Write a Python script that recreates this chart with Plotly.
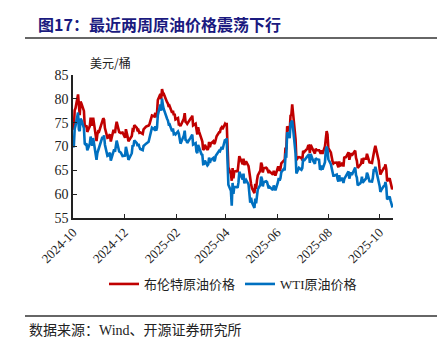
import plotly.graph_objects as go

# ---- data (daily closes, USD/bbl) ----
dates_oct24 = ["2024-10-%02d" % d for d in [1,2,3,4,7,8,9,10,11,14,15,16,17,18,21,22,23,24,25,28,29,30,31]]
brent_oct24 = [73.56,73.90,77.62,78.05,80.93,77.18,76.58,79.40,79.04,77.46,74.25,74.22,74.45,73.06,74.29,76.04,74.96,74.38,76.05,71.42,71.12,72.55,73.16]
wti_oct24 = [69.83,70.10,73.71,74.38,77.14,73.57,73.24,75.85,75.56,73.83,70.58,70.39,70.67,69.22,70.56,72.09,70.77,70.19,71.78,67.38,67.21,68.61,69.26]

dates_nov24 = ["2024-11-%02d" % d for d in [1,4,5,6,7,8,11,12,13,14,15,18,19,20,21,22,25,26,27,29]]
brent_nov24 = [73.10,75.08,75.53,75.92,75.63,73.87,71.83,71.89,72.28,72.56,71.04,73.30,73.31,72.81,74.23,75.17,73.01,72.81,72.83,72.94]
wti_nov24 = [69.49,71.47,71.99,71.69,72.36,70.38,68.04,68.12,68.43,68.70,67.02,69.16,69.39,68.87,70.10,71.24,68.94,68.77,68.72,68.00]

dates_dec24 = ["2024-12-%02d" % d for d in [2,3,4,5,6,9,10,11,12,13,16,17,18,19,20,23,24,27,30,31]]
brent_dec24 = [71.83,73.62,72.31,72.09,71.12,72.14,72.19,73.52,73.41,74.49,73.91,73.19,73.39,72.88,72.94,72.63,73.58,74.17,74.39,74.64]
wti_dec24 = [68.10,69.94,68.54,68.30,67.20,68.37,68.59,70.29,70.02,71.29,70.71,70.08,70.58,69.91,69.46,69.24,70.10,70.60,70.99,71.72]

dates_jan25 = ["2025-01-%02d" % d for d in [2,3,6,7,8,9,10,13,14,15,16,17,21,22,23,24,27,28,29,30,31]]
brent_jan25 = [75.93,76.51,76.30,77.05,76.16,76.92,79.76,81.01,79.92,82.03,81.29,81.07,79.29,79.00,78.29,78.50,77.08,77.49,76.58,76.87,75.67]
wti_jan25 = [73.13,73.96,73.56,74.25,73.32,73.92,76.57,78.82,77.50,80.04,78.68,77.88,75.83,75.44,74.62,74.66,73.17,73.77,72.62,72.73,72.53]

dates_feb25 = ["2025-02-%02d" % d for d in [3,4,5,6,7,10,11,12,13,14,18,19,20,21,24,25,26,27,28]]
brent_feb25 = [75.96,74.61,74.61,74.29,74.66,75.87,77.00,75.18,75.02,74.74,75.84,76.04,76.48,74.43,74.78,73.02,72.53,74.04,73.18]
wti_feb25 = [73.16,72.70,71.03,70.61,71.00,72.32,73.32,71.37,71.29,70.74,71.85,72.25,72.48,70.40,70.70,68.93,68.62,70.35,69.76]

dates_mar25 = ["2025-03-%02d" % d for d in [3,4,5,6,7,10,11,12,13,14,17,18,19,20,21,24,25,26,27,28,31]]
brent_mar25 = [71.62,71.04,69.30,69.46,70.36,69.28,69.56,70.95,69.88,70.58,71.07,70.56,70.78,72.00,72.16,73.00,73.02,73.79,74.03,73.63,74.74]
wti_mar25 = [68.37,68.26,66.31,66.36,67.04,66.03,66.25,67.68,66.55,67.18,67.58,66.90,67.16,68.07,68.28,69.11,69.00,69.65,69.92,69.36,71.48]

dates_apr25 = ["2025-04-%02d" % d for d in [1,2,3,4,7,8,9,10,11,14,15,16,17,21,22,23,24,25,28,29,30]]
brent_apr25 = [74.49,74.95,70.14,65.58,64.21,62.82,65.48,63.33,64.76,64.88,64.67,65.85,67.96,66.26,67.44,66.12,66.55,66.87,65.86,64.25,63.12]
wti_apr25 = [71.20,71.71,66.95,61.99,60.70,57.58,62.35,60.07,61.50,61.53,61.33,62.47,64.68,63.08,64.31,62.27,62.79,63.02,62.05,60.42,58.21]

dates_may25 = ["2025-05-%02d" % d for d in [1,2,5,6,7,8,9,12,13,14,15,16,19,20,21,22,23,27,28,29,30]]
brent_may25 = [62.13,61.29,60.23,62.15,61.12,62.84,63.91,64.96,66.63,66.09,64.53,65.41,65.54,65.38,64.91,64.44,64.78,64.09,64.90,64.15,63.90]
wti_may25 = [59.24,58.29,57.13,59.09,58.07,59.91,61.02,61.95,63.67,63.15,61.62,62.49,62.69,62.56,61.57,61.20,61.53,60.89,61.84,60.94,60.79]

dates_jun25 = ["2025-06-%02d" % d for d in [2,3,4,5,6,9,10,11,12,13,16,17,18,19,20,23,24,25,26,27,30]]
brent_jun25 = [65.63,65.63,64.86,65.34,66.47,67.04,66.87,69.77,69.36,74.23,73.23,76.45,76.70,78.85,77.01,71.48,67.14,67.68,67.73,67.77,67.61]
wti_jun25 = [62.52,63.41,62.85,63.37,64.58,65.29,64.98,68.15,68.04,72.98,71.77,74.84,75.14,75.40,73.84,68.51,64.37,64.92,65.24,65.52,65.11]

dates_jul25 = ["2025-07-%02d" % d for d in [1,2,3,7,8,9,10,11,14,15,16,17,18,21,22,23,24,25,28,29,30,31]]
brent_jul25 = [67.11,69.11,68.80,69.58,70.15,70.19,68.64,70.36,69.21,68.71,68.52,69.52,69.28,69.21,68.59,68.51,69.18,68.44,70.04,72.51,73.24,72.53]
wti_jul25 = [65.45,67.45,67.00,67.93,68.33,68.38,66.57,68.45,66.98,66.52,66.38,67.54,67.34,67.20,65.31,65.25,66.03,65.16,66.71,69.21,70.00,69.26]

dates_aug25 = ["2025-08-%02d" % d for d in [1,4,5,6,7,8,11,12,13,14,15,18,19,20,21,22,25,26,27,28,29]]
brent_aug25 = [69.67,68.76,67.64,66.89,66.43,66.59,66.63,66.12,65.63,66.84,65.85,66.60,65.79,67.84,67.67,67.73,68.80,67.22,68.05,68.62,68.12]
wti_aug25 = [67.33,66.29,65.16,64.35,63.88,63.88,64.10,63.17,62.65,63.96,62.80,63.42,62.35,63.21,63.52,63.66,64.80,63.25,64.15,64.60,64.01]

dates_sep25 = ["2025-09-%02d" % d for d in [2,3,4,5,8,9,10,11,12,15,16,17,18,19,22,23,24,25,26,29,30]]
brent_sep25 = [69.14,67.60,66.99,65.50,66.02,66.39,67.49,66.37,67.44,67.44,68.47,67.95,67.44,66.68,66.57,67.63,69.31,69.42,70.13,67.97,67.02]
wti_sep25 = [65.59,63.97,63.48,61.87,62.26,62.63,63.67,62.37,62.69,63.30,64.52,64.05,63.57,62.68,62.64,63.41,64.99,64.98,65.72,63.45,62.37]

dates_oct25 = ["2025-10-%02d" % d for d in [1,2,3,6,7,8,9,10,13,14,15,16,17]]
brent_oct25 = [65.35,64.11,64.53,65.47,65.45,66.25,65.22,62.73,63.32,62.39,62.01,61.06,61.29]
wti_oct25 = [61.78,60.48,60.88,61.69,61.73,62.55,61.51,58.90,59.49,58.70,58.27,57.46,57.54]

dates = (dates_oct24 + dates_nov24 + dates_dec24 + dates_jan25 + dates_feb25 + dates_mar25 +
         dates_apr25 + dates_may25 + dates_jun25 + dates_jul25 + dates_aug25 + dates_sep25 + dates_oct25)
brent = (brent_oct24 + brent_nov24 + brent_dec24 + brent_jan25 + brent_feb25 + brent_mar25 +
         brent_apr25 + brent_may25 + brent_jun25 + brent_jul25 + brent_aug25 + brent_sep25 + brent_oct25)
wti = (wti_oct24 + wti_nov24 + wti_dec24 + wti_jan25 + wti_feb25 + wti_mar25 +
       wti_apr25 + wti_may25 + wti_jun25 + wti_jul25 + wti_aug25 + wti_sep25 + wti_oct25)

series_names = ["布伦特原油价格", "WTI原油价格"]
title_text = "图17：最近两周原油价格震荡下行"
unit_text = "美元/桶"
source_text = "数据来源：Wind、开源证券研究所"

SERIF = "Liberation Serif, Times New Roman, Noto Sans CJK SC, serif"
CJK = "Noto Sans CJK SC, sans-serif"

fig = go.Figure()
fig.add_trace(go.Scatter(x=dates, y=brent, mode="lines", name=series_names[0],
                         line=dict(color="#C00000", width=2.6)))
fig.add_trace(go.Scatter(x=dates, y=wti, mode="lines", name=series_names[1],
                         line=dict(color="#0070C0", width=2.6)))

fig.update_layout(
    width=446, height=354,
    margin=dict(l=73, r=53, t=75, b=136),
    paper_bgcolor="white", plot_bgcolor="white",
    showlegend=True,
    legend=dict(orientation="h", x=0.5, xanchor="center", y=-(284-218)/143, yanchor="middle",
                font=dict(family=SERIF, size=13, color="#222"),
                bgcolor="rgba(0,0,0,0)", itemwidth=30, tracegroupgap=0),
    font=dict(family=SERIF, color="#222"),
)
fig.update_xaxes(
    type="date", range=["2024-10-01", "2025-10-17"],
    tick0="2024-10-01", dtick="M2", tickformat="%Y-%m",
    tickangle=-45, ticks="inside", ticklen=4, tickcolor="#222",
    showline=True, linecolor="#222", linewidth=1.5,
    showgrid=False, zeroline=False,
    tickfont=dict(family=SERIF, size=13, color="#222"),
)
fig.update_yaxes(
    range=[55, 85], dtick=5, tick0=55,
    ticks="inside", ticklen=4, tickcolor="#222",
    showline=True, linecolor="#222", linewidth=1.5,
    showgrid=False, zeroline=False,
    tickfont=dict(family=SERIF, size=14, color="#222"),
)

fig.add_annotation(text=title_text, xref="paper", yref="paper",
                   x=-0.115, y=1.0 + 51/143, xanchor="left", yanchor="middle",
                   showarrow=False, font=dict(family=CJK, size=16, color="#1a1a80", weight="bold"))
fig.add_annotation(text=unit_text, xref="paper", yref="paper",
                   x=15/320, y=1.0 + 13/143, xanchor="left", yanchor="middle",
                   showarrow=False, font=dict(family=CJK, size=12, color="#222"))
fig.add_annotation(text=source_text, xref="paper", yref="paper",
                   x=-0.143, y=-(330-218)/143, xanchor="left", yanchor="middle",
                   showarrow=False, font=dict(family=SERIF, size=14, color="#222"))

# title underline and source overline
fig.add_shape(type="line", xref="paper", yref="paper",
              x0=-48/320, x1=364/320, y0=1.0 + 37/143, y1=1.0 + 37/143,
              line=dict(color="#333", width=1.5))
fig.add_shape(type="line", xref="paper", yref="paper",
              x0=-48/320, x1=364/320, y0=-(316-218)/143, y1=-(316-218)/143,
              line=dict(color="#333", width=1.5))

fig.write_html("out.html")
